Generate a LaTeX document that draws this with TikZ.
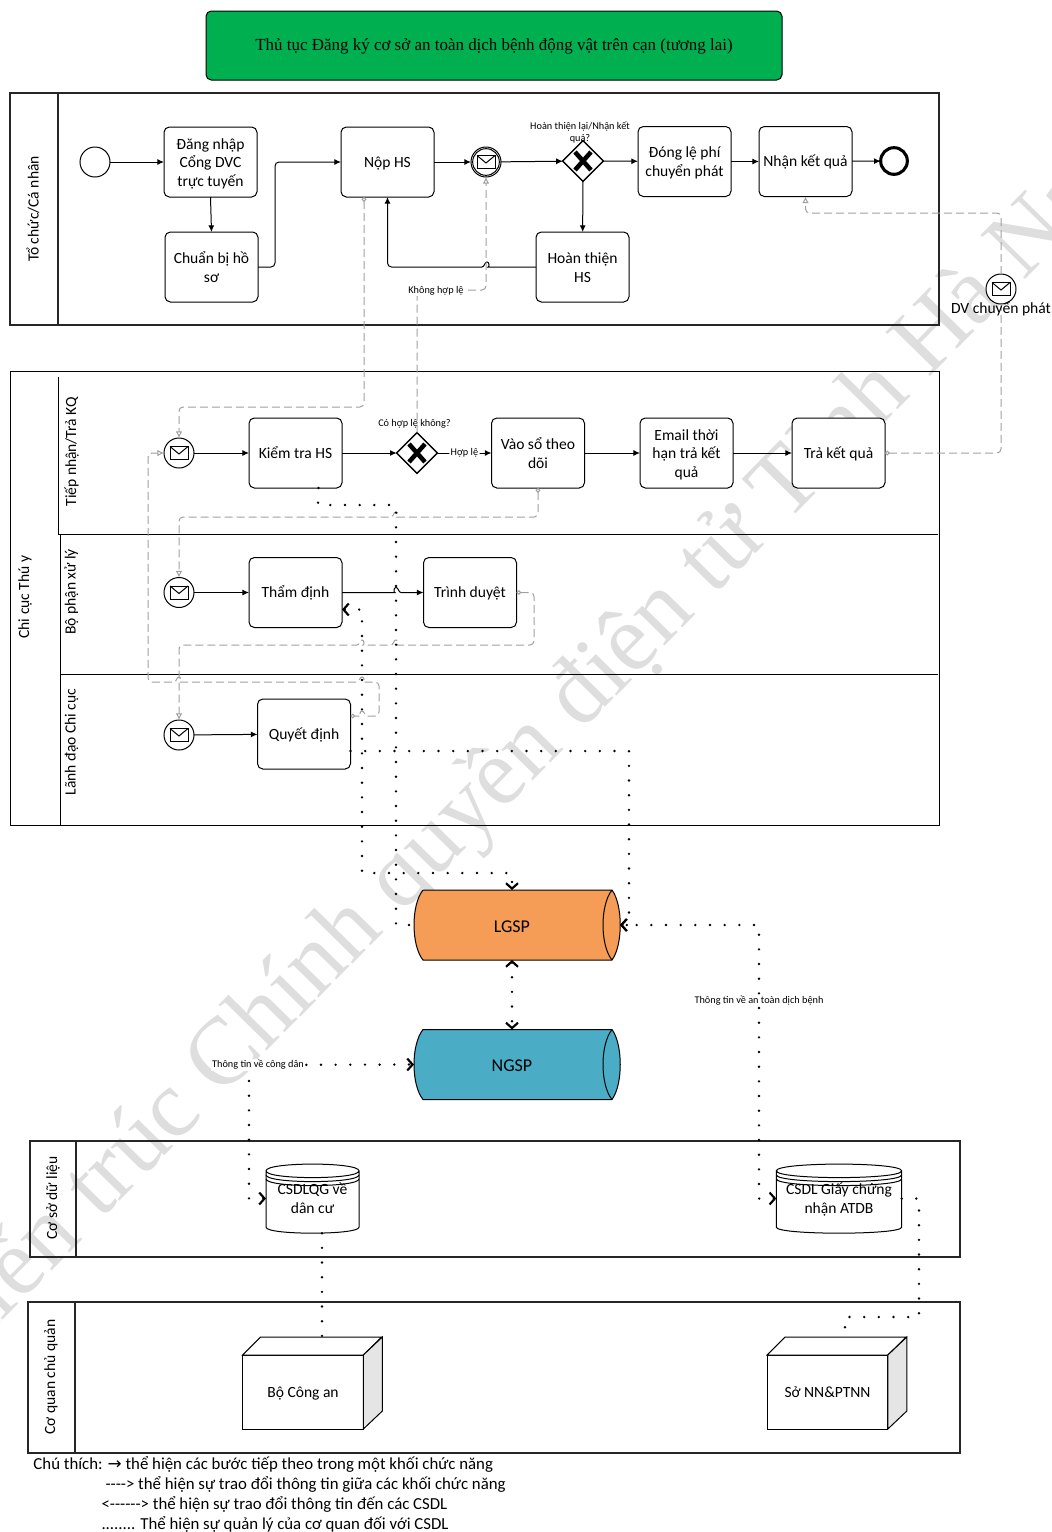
\documentclass[tikz,border=0pt]{standalone}
\usepackage{fontspec}
\setmainfont{Carlito}
\newfontfamily\serifface{Liberation Serif}
\newfontfamily\symface{DejaVu Sans}
\usepackage{xcolor}
\usetikzlibrary{positioning,arrows.meta,calc,shapes.geometric}

\definecolor{titlegreen}{HTML}{00B050}
\definecolor{lgspfill}{HTML}{F59D56}
\definecolor{ngspfill}{HTML}{4BACC6}
\definecolor{wmark}{HTML}{DEDEDE}
\definecolor{msgline}{HTML}{A0A0A0}

% same height for the first line of every box
\newcommand{\linetop}{\rule{0pt}{11.5pt}}

% one small bump where a line passes over another one
\newcommand{\hop}[3]{-- (#1-#3,#2) [sharp corners] .. controls (#1-#3/2,#2) and (#1-#3/2,#2-5) .. (#1,#2-5) .. controls (#1+#3/2,#2-5) and (#1+#3/2,#2) .. (#1+#3,#2) [rounded corners=3pt]}

% lying pipe around a node
\newcommand{\pipecan}[2]{%
  \draw[fill=#2] ($(#1.north west)+(9,0)$) -- ($(#1.north east)+(-8,0)$)
    .. controls ($(#1.north east)+(3,15)$) and ($(#1.south east)+(3,-15)$) .. ($(#1.south east)+(-8,0)$)
    -- ($(#1.south west)+(9,0)$)
    .. controls ($(#1.south west)+(-3,-15)$) and ($(#1.north west)+(-3,15)$) .. cycle;
  \draw ($(#1.north east)+(-8,0)$) .. controls ($(#1.north east)+(-20,15)$) and ($(#1.south east)+(-20,-15)$) .. ($(#1.south east)+(-8,0)$);
}

% database can around a node
\newcommand{\dbcan}[1]{%
  \draw[fill=white] ($(#1.north west)+(0,7)$) -- ($(#1.south west)+(0,-6)$)
    .. controls ($(#1.south west)+(0,2)$) and ($(#1.south east)+(0,2)$) .. ($(#1.south east)+(0,-6)$)
    -- ($(#1.north east)+(0,7)$)
    .. controls ($(#1.north east)+(0,-2)$) and ($(#1.north west)+(0,-2)$) .. ($(#1.north west)+(0,7)$)
    .. controls ($(#1.north west)+(0,16)$) and ($(#1.north east)+(0,16)$) .. ($(#1.north east)+(0,7)$);
  \foreach \d in {11,15}
    \draw ($(#1.north west)+(0,\d)$) .. controls ($(#1.north west)+(0,\d+9)$) and ($(#1.north east)+(0,\d+9)$) .. ($(#1.north east)+(0,\d)$);
}

% top and side of a box, on the front face given by a node
\newcommand{\boxface}[1]{%
  \draw[fill=white] (#1.north west) -- ++(18,-18) -- ++(121,0) -- ($(#1.north east)$) -- cycle;
  \draw[fill=gray!20] (#1.north east) -- ++(19,-18) -- ++(0,74) -- (#1.south east) -- cycle;
}

\begin{document}
\begin{tikzpicture}[
  x=0.75pt, y=-0.75pt, line width=0.75pt,
  txt/.style={font=\fontsize{11.67}{14}\selectfont},
  lifted/.style={execute at begin node={\rule{0pt}{11pt}}, execute at end node={\rule[-3pt]{0pt}{3pt}}},
  task/.style={draw, rounded corners=4pt, fill=white, minimum width=69.75pt, minimum height=52.5pt, align=center, inner sep=1pt, outer sep=0pt, txt, lifted},
  msg/.style={circle, draw, fill=white, minimum size=22.5pt, inner sep=0pt, outer sep=0pt,
    path picture={
      \draw ($(path picture bounding box.center)+(-9,-6.5)$) rectangle ($(path picture bounding box.center)+(9,6.5)$);
      \draw ($(path picture bounding box.center)+(-9,-6.5)$) -- ($(path picture bounding box.center)+(0,1)$) -- ($(path picture bounding box.center)+(9,-6.5)$);
    }},
  gate/.style={diamond, draw, line width=1.1pt, fill=white, minimum size=30.5pt, inner sep=0pt, outer sep=0pt,
    path picture={
      \draw[line width=3.4pt] ($(path picture bounding box.center)+(-8,-9)$) -- ($(path picture bounding box.center)+(8,9)$);
      \draw[line width=3.4pt] ($(path picture bounding box.center)+(-8,9)$) -- ($(path picture bounding box.center)+(8,-9)$);
    }},
  flow/.style={-{Latex[length=5pt,width=4.5pt]}, rounded corners=3pt},
  message/.style={msgline, dash pattern=on 6pt off 3pt, rounded corners=3pt},
  msgin/.style={message, -{Latex[open,length=5pt,width=5pt]}},
  msgout/.style={message, {Circle[open,fill=white,length=3.5pt]}-},
  msgboth/.style={message, {Circle[open,fill=white,length=3.5pt]}-{Latex[open,length=5pt,width=5pt]}},
  dots/.style={line width=2pt, line cap=round, dash pattern=on 0pt off 11pt},
  dotsarr/.style={dots, <->, >={Straight Barb[length=4pt,width=9pt,line width=1.6pt]}},
  dotsend/.style={dots, ->, >={Straight Barb[length=4pt,width=9pt,line width=1.6pt]}},
  pool/.style={line width=1.1pt, black!85},
  poolthin/.style={line width=0.75pt, black},
  lanename/.style={rotate=90, txt},
  small/.style={font=\fontsize{7.7}{9}\selectfont, align=center},
  pipe/.style={minimum width=154.5pt, minimum height=52.5pt, inner sep=0pt, outer sep=0pt},
  pipename/.style={font=\fontsize{13.5}{14}\selectfont, text height=11pt, text depth=0.5pt},
  store/.style={minimum width=69.75pt, minimum height=52pt, align=center, inner sep=0pt, outer sep=0pt, txt},
  office/.style={draw, fill=white, minimum width=90.5pt, minimum height=55.5pt, inner sep=0pt, outer sep=0pt, txt, lifted},
  note/.style={anchor=west, inner sep=0pt, font=\fontsize{12.6}{14}\selectfont}]
  \useasboundingbox (0,0) rectangle (1051,1532);

  % watermark
  \begin{scope}
    \clip (0,0) rectangle (1051,1532);
    \node[wmark, rotate=45.5, font=\fontsize{71.6}{80}\serifface\selectfont] (wm) at (536,743) {Kiến trúc Chính quyền điện tử Tỉnh Hà Nam};
  \end{scope}

  % title
  \node[draw, fill=titlegreen, rounded corners=4pt, minimum width=432pt, minimum height=51.75pt, text height=9.5pt, text depth=2pt, font=\fontsize{12.72}{15}\serifface\selectfont] (title) at (494,45.5) {Thủ tục Đăng ký cơ sở an toàn dịch bệnh động vật trên cạn (tương lai)};

  % lanes
  \draw[pool] (10,93) rectangle (939,325);
  \draw[pool] (58,93) -- (58,325);
  \draw[poolthin] (10,371) rectangle (939,825);
  \draw[poolthin] (58,377) -- (58,534) -- (60,534) -- (60,825);
  \draw[poolthin] (58,534) -- (938,534);
  \draw[poolthin] (60,674) -- (938,674);
  \draw[pool] (30,1141) rectangle (960,1257);
  \draw[pool] (76,1141) -- (76,1257);
  \draw[pool] (28,1302) rectangle (960,1453);
  \draw[pool] (75,1302) -- (75,1453);
  \node[lanename] (lane1) at (33,209) {Tổ chức/Cá nhân};
  \node[lanename] (lane2) at (25,597) {Chi cục Thú y};
  \node[lanename] (lane2a) at (71.5,452) {Tiếp nhận/Trả KQ};
  \node[lanename] (lane2b) at (71.5,592) {Bộ phận xử lý};
  \node[lanename] (lane2c) at (71.5,742) {Lãnh đạo Chi cục};
  \node[lanename] (lane3) at (53,1198) {Cơ sở dữ liệu};
  \node[lanename] (lane4) at (51,1377) {Cơ quan chủ quản};

  % applicant
  \node[circle, draw, minimum size=22.5pt, inner sep=0pt, outer sep=0pt] (start) at (95,162) {};
  \node[task] (login) at (210.5,162) {\linetop Đăng nhập\\Cổng DVC\\trực tuyến};
  \node[task] (prepare) at (211.5,267) {\linetop Chuẩn bị hồ\\sơ};
  \node[task] (submit) at (387.5,162) {Nộp HS};
  \node[msg] (recv) at (486,162) {};
  \node[circle, draw, minimum size=20pt, inner sep=0pt] (recvring) at (486,162) {};
  \node[gate] (gate1) at (583,161) {};
  \node[task] (fee) at (684.5,161.5) {\linetop Đóng lệ phí\\chuyển phát};
  \node[task] (getres) at (805.5,161.5) {Nhận kết quả};
  \node[circle, draw, line width=2.3pt, minimum size=20pt, inner sep=0pt, outer sep=0pt] (finish) at (894,161) {};
  \node[task] (redo) at (582.5,267) {\linetop Hoàn thiện\\HS};
  \node[small] (gate1q) at (580,132) {Hoàn thiện lại/Nhận kết\\quả?};

  % office, lane by lane
  \node[msg] (ev1) at (179,453) {};
  \node[task] (check) at (295.5,453) {Kiểm tra HS};
  \node[gate] (gate2) at (417,453) {};
  \node[task] (book) at (538,453) {\linetop Vào sổ theo\\dõi};
  \node[task] (mail) at (686.5,453) {\linetop Email thời\\hạn trả kết\\quả};
  \node[task] (give) at (838.5,453) {Trả kết quả};
  \node[small] (gate2q) at (414.5,424) {Có hợp lệ không?};
  \node[msg] (ev2) at (179,592.5) {};
  \node[task] (review) at (295.5,592.5) {Thẩm định};
  \node[task] (present) at (470,592.5) {Trình duyệt};
  \node[msg] (ev3) at (179,735) {};
  \node[task] (decide) at (304,734) {Quyết định};
  \node[msg] (post) at (1001,289) {};

  % flows
  \draw[flow] (start) -- (login);
  \draw[flow] (login.south) -- (prepare.north);
  \draw[flow] (prepare.east) -- (275,267) -- (275,162) -- (submit.west);
  \draw[flow] (redo.west) \hop{487}{267}{-5} -- (387.5,267) -- (submit.south);
  \draw[flow] (submit) -- (recv);
  \draw[flow] (recv) -- (gate1);
  \draw[flow] (gate1) -- (fee);
  \draw[flow] (fee) -- (getres);
  \draw[flow] (getres) -- (finish);
  \draw[flow] (gate1) -- (redo);
  \draw[flow] (ev1) -- (check);
  \draw[flow] (check) -- (gate2);
  \draw[flow] (gate2) -- node[fill=white, inner sep=1pt, font=\fontsize{7.7}{9}\selectfont] (valid) {Hợp lệ} (book);
  \draw[flow] (book) -- (mail);
  \draw[flow] (mail) -- (give);
  \draw[flow] (ev2) -- (review);
  \draw[flow] (review.east) \hop{396}{592.5}{5} -- (present.west);
  \draw[flow] (ev3) -- (decide);

  % messages
  \draw[msgboth] ($(submit.south west)+(23,0)$) -- (364,407) -- (179,407) -- (ev1.north);
  \draw[msgin] (gate2.north) -- (417,290) -- (486,290) -- (recv.south);
  \node[fill=white, inner sep=1pt, font=\fontsize{7.7}{9}\selectfont] (invalid) at (436,290.5) {Không hợp lệ};
  \draw[msgout] (give.east) -- (1001,453) -- (post.south);
  \draw[msgin] (post.north) -- (1001,213) -- (805.5,213) -- (getres.south);
  \node[txt] (postname) at (1001,309) {DV chuyển phát};
  \draw[msgboth] (book.south) -- (538,517) \hop{396}{517}{-5} -- (179,517) -- (ev2.north);
  \draw[msgboth] (present.east) -- (534,592.5) -- (534,645) \hop{396}{645}{-5} \hop{362}{645}{-5} -- (179,645) -- (ev3.north);
  \draw[msgboth] ($(decide.east)+(0,-18)$) \hop{362}{716}{5} -- (379,716) -- (379,682) \hop{362}{682}{-5} \hop{179}{682}{-5} -- (148,682) -- (148,453) -- (ev1.west);

  % shared services
  \node[pipe] (lgsp) at (517,925) {};
  \node[pipe] (ngsp) at (517,1064.5) {};
  \pipecan{lgsp}{lgspfill}
  \pipecan{ngsp}{ngspfill}
  \node[pipename] (lgspname) at (512,925) {LGSP};
  \node[pipename] (ngspname) at (512,1064.5) {NGSP};

  % databases
  \node[store] (dbcitizen) at (312.5,1198.5) {};
  \node[store, minimum width=94pt] (dbcert) at (839,1198.5) {};
  \dbcan{dbcitizen}
  \dbcan{dbcert}
  \node[store, lifted] (dbcitizenname) at (312.5,1198.5) {\linetop CSDLQG về\\dân cư};
  \node[store, lifted] (dbcertname) at (839,1198.5) {\linetop CSDL Giấy chứng\\nhận ATDB};

  % offices
  \node[office] (police) at (303,1392) {Bộ Công an};
  \node[office] (dept) at (827.5,1392) {Sở NN\&PTNN};
  \boxface{police}
  \boxface{dept}

  % exchanges
  \draw[dots] ($(check.south)+(23,0)$) -- (318,505) -- (396,505) -- (396,925) -- (lgsp.west);
  \draw[dotsarr] ($(review.east)+(0,17)$) -- (362,609.5) -- (362,873) -- (512,873) -- ($(lgsp.north)+(-5,0)$);
  \draw[dotsend] ($(decide.east)+(0,17)$) -- (629,751) -- (629,925) -- (lgsp.east);
  \draw[dotsarr] (dbcert.west) -- (759,1198.5) -- (759,925) -- (lgsp.east);
  \draw[dotsarr] ($(lgsp.south)+(-5,0)$) -- ($(ngsp.north)+(-5,0)$);
  \draw[dotsarr] (dbcitizen.west) -- (249,1198.5) -- (249,1065) -- (ngsp.west);
  \draw[dots] ($(dbcitizen.south)+(9.5,0)$) -- ($(police.north)+(19,-18)$);
  \draw[dots] (dbcert.east) -- (919,1198.5) -- (919,1317) -- (845,1317) -- ($(dept.north)+(17.5,-18)$);
  \node[small, fill=white, inner sep=1pt] (citizeninfo) at (258,1065) {Thông tin về công dân};
  \node[small] (safeinfo) at (759,1000.5) {Thông tin về an toàn dịch bệnh};

  % legend
  \node[note] (note1) at (33,1464) {Chú thích: {\symface→} thể hiện các bước tiếp theo trong một khối chức năng};
  \node[note] (note2) at (105,1484) {-{}-{}-{}-> thể hiện sự trao đổi thông tin giữa các khối chức năng};
  \node[note] (note3) at (101,1504) {<-{}-{}-{}-{}-{}-> thể hiện sự trao đổi thông tin đến các CSDL};
  \node[note] (note4) at (101,1524) {........ Thể hiện sự quản lý của cơ quan đối với CSDL};
\end{tikzpicture}
\end{document}
